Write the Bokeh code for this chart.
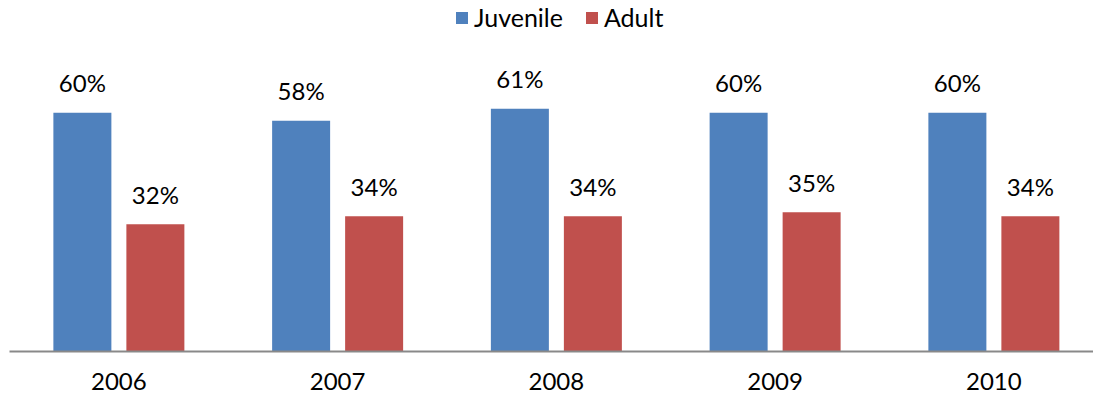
from bokeh.plotting import figure
from bokeh.models import ColumnDataSource, Range1d, Legend, LegendItem, FixedTicker
from bokeh.transform import dodge
from bokeh.core.properties import value
from bokeh.embed import file_html
from bokeh.resources import INLINE

# ---- data ----
years = ["2006", "2007", "2008", "2009", "2010"]
juvenile = [60, 58, 61, 60, 60]
adult = [32, 34, 34, 35, 34]
series_names = ["Juvenile", "Adult"]
colors = ["#4F81BD", "#C0504D"]

FONT = "Lato"
FS = "24px"
LFS = "25px"

xs = list(range(len(years)))
src = ColumnDataSource(dict(
    x=xs,
    juv=juvenile,
    adu=adult,
    juv_lbl=[f"{v}%" for v in juvenile],
    adu_lbl=[f"{v}%" for v in adult],
))

PX_PER_CAT = 218.75
LEFT = 9
W, H = 1093, 398
BOTTOM = 47
frame_w = W - LEFT
frame_h = H - BOTTOM
PX_PER_PCT = 3.967

p = figure(width=W, height=H, output_backend="svg", toolbar_location=None,
           x_range=Range1d(-0.5, -0.5 + frame_w / PX_PER_CAT),
           y_range=Range1d(0, (frame_h - 1) / PX_PER_PCT),
           min_border_left=LEFT, min_border_right=0, min_border_top=0,
           min_border_bottom=BOTTOM)

bw = 58 / PX_PER_CAT
off = 36.5 / PX_PER_CAT

r1 = p.vbar(x=dodge("x", -off, range=p.x_range), top="juv", width=bw, bottom=0,
            source=src, fill_color=colors[0], line_color=None)
r2 = p.vbar(x=dodge("x", off, range=p.x_range), top="adu", width=bw, bottom=0,
            source=src, fill_color=colors[1], line_color=None)

for col, lbl, o in (("juv", "juv_lbl", -off), ("adu", "adu_lbl", off)):
    p.text(x=dodge("x", o, range=p.x_range), y=col, text=lbl, source=src,
           text_align="center", text_baseline="alphabetic", y_offset=-30,
           text_font=value(FONT), text_font_size=FS, text_color="#000000")

p.xaxis.ticker = FixedTicker(ticks=xs)
p.xaxis.major_label_overrides = {i: y for i, y in zip(xs, years)}
p.xaxis.major_tick_line_color = None
p.xaxis.minor_tick_line_color = None
p.xaxis.major_tick_out = 0
p.xaxis.major_tick_in = 0
p.xaxis.axis_line_color = "#898989"
p.xaxis.axis_line_width = 2
p.xaxis.major_label_standoff = 21
p.xaxis.major_label_text_font = FONT
p.xaxis.major_label_text_font_size = FS
p.xaxis.major_label_text_color = "#000000"
p.yaxis.visible = False
p.xgrid.visible = False
p.ygrid.visible = False
p.outline_line_color = None

legend = Legend(items=[LegendItem(label=series_names[0], renderers=[r1]),
                       LegendItem(label=series_names[1], renderers=[r2])],
                location=(445, frame_h - 4 - 28), orientation="horizontal",
                border_line_color=None, background_fill_alpha=0,
                label_text_font=FONT, label_text_font_size=LFS,
                label_text_color="#000000",
                glyph_width=15, glyph_height=15, label_standoff=5,
                spacing=21, padding=0, margin=0, label_height=20)
p.add_layout(legend)

open("out.html", "w").write(file_html(p, INLINE))
